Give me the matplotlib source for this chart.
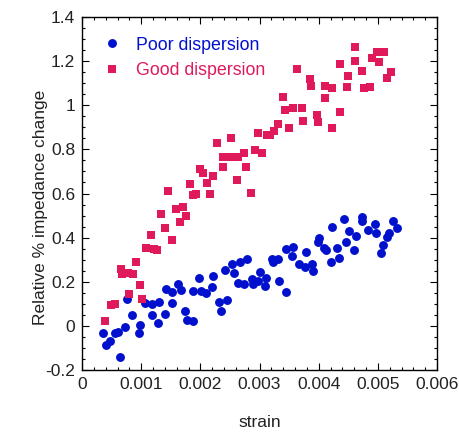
import numpy as np
import matplotlib
matplotlib.use("Agg")
import matplotlib.pyplot as plt
from matplotlib.ticker import MultipleLocator, FormatStrFormatter

plt.rcParams['font.family'] = ['Liberation Sans', 'DejaVu Sans']

# strain in units of 1e-3
poor_x = [0.363, 0.414, 0.478, 0.553, 0.608, 0.642, 0.727, 0.755, 0.845, 0.955,
          0.980, 1.073, 1.178, 1.306, 1.191, 1.289, 1.403, 1.420, 1.516, 1.628,
          1.673, 1.516, 1.741, 1.769, 1.881, 1.871, 1.982, 2.003, 2.104, 2.202,
          2.222, 2.315, 2.344, 2.456, 2.417, 2.530, 2.569, 2.670, 2.789, 2.636,
          2.743, 2.865, 2.895, 3.003, 2.980, 3.118, 3.093, 3.206, 3.223, 3.318,
          3.333, 3.448, 3.448, 3.558, 3.554, 3.662, 3.769, 3.882, 3.899, 3.786,
          3.997, 4.014, 4.090, 4.132, 4.310, 4.343, 4.203, 4.230, 4.428, 4.521,
          4.631, 4.462, 4.600, 4.727, 4.732, 4.839, 4.952, 4.969, 5.261, 5.324,
          5.194, 5.155, 5.084, 5.048]
poor_y = [-0.034, -0.088, -0.067, -0.031, -0.029, -0.141, -0.005, 0.124, 0.050, -0.031,
          0.003, 0.102, 0.097, 0.109, 0.050, 0.015, 0.053, 0.166, 0.154, 0.188,
          0.163, 0.102, 0.067, 0.026, 0.023, 0.157, 0.219, 0.157, 0.149, 0.177,
          0.224, 0.107, 0.067, 0.118, 0.253, 0.280, 0.238, 0.291, 0.302, 0.194,
          0.192, 0.211, 0.188, 0.245, 0.205, 0.215, 0.180, 0.305, 0.290, 0.305,
          0.204, 0.153, 0.347, 0.357, 0.316, 0.280, 0.269, 0.279, 0.249, 0.337,
          0.381, 0.398, 0.351, 0.346, 0.351, 0.307, 0.290, 0.448, 0.484, 0.432,
          0.408, 0.381, 0.342, 0.493, 0.477, 0.436, 0.460, 0.422, 0.476, 0.444,
          0.423, 0.404, 0.365, 0.331]

good_x = [0.389, 0.482, 0.566, 0.659, 0.668, 0.782, 0.870, 0.799, 0.913, 0.980,
          1.022, 1.077, 1.225, 1.276, 1.158, 1.327, 1.411, 1.516, 1.459, 1.589,
          1.699, 1.656, 1.766, 1.817, 1.881, 1.935, 1.994, 2.050, 2.107, 2.163,
          2.222, 2.276, 2.388, 2.501, 2.631, 2.388, 2.518, 2.620, 2.738, 2.780,
          2.856, 2.924, 3.042, 2.969, 3.122, 3.177, 3.240, 3.307, 3.389, 3.431,
          3.503, 3.574, 3.723, 3.628, 3.743, 3.853, 3.870, 3.972, 3.988, 4.107,
          4.225, 4.107, 4.222, 4.365, 4.355, 4.501, 4.487, 4.622, 4.614, 4.737,
          4.761, 4.867, 4.896, 4.986, 5.107, 5.025, 5.222, 5.155]
good_y = [0.021, 0.096, 0.101, 0.259, 0.234, 0.241, 0.237, 0.146, 0.291, 0.187,
          0.123, 0.352, 0.348, 0.346, 0.414, 0.507, 0.445, 0.391, 0.612, 0.529,
          0.541, 0.469, 0.497, 0.644, 0.593, 0.600, 0.711, 0.691, 0.646, 0.596,
          0.680, 0.829, 0.766, 0.766, 0.766, 0.720, 0.853, 0.663, 0.783, 0.718,
          0.604, 0.798, 0.785, 0.874, 0.865, 0.865, 0.884, 0.914, 1.039, 0.978,
          0.898, 0.989, 0.989, 1.166, 0.930, 1.117, 1.087, 0.954, 0.922, 1.089,
          1.080, 1.031, 0.898, 0.971, 1.185, 1.134, 1.081, 1.262, 1.199, 1.156,
          1.080, 1.084, 1.212, 1.243, 1.240, 1.195, 1.151, 1.125]

blue = "#0010cc"
red = "#e01a5a"

fig = plt.figure(figsize=(4.59, 4.32), dpi=100)
ax = fig.add_axes([82 / 459, 1 - 370 / 432, 355 / 459, 353 / 432])

ax.plot(np.array(poor_x) * 1e-3, poor_y, 'o', color=blue, ms=6.4, mew=0,
        label="Poor dispersion")
ax.plot(np.array(good_x) * 1e-3, good_y, 's', color=red, ms=6.0, mew=0,
        label="Good dispersion")

ax.set_xlim(0, 0.006)
ax.set_ylim(-0.2, 1.4)
ax.xaxis.set_major_locator(MultipleLocator(0.001))
ax.xaxis.set_minor_locator(MultipleLocator(0.0002))
ax.yaxis.set_major_locator(MultipleLocator(0.2))
ax.yaxis.set_minor_locator(MultipleLocator(0.05))
ax.xaxis.set_major_formatter(FormatStrFormatter('%g'))
ax.yaxis.set_major_formatter(FormatStrFormatter('%g'))
ax.tick_params(which='both', direction='in', top=True, right=True,
               labelsize=12.5, labelcolor='#222222', width=0.8)
ax.tick_params(which='major', length=5, pad=5)
ax.tick_params(which='minor', length=2.5)
for s in ax.spines.values():
    s.set_linewidth(1.0)

ax.set_xlabel("strain", fontsize=12.5, color='#222222')
ax.set_ylabel("Relative % impedance change", fontsize=12.5, color='#222222')
ax.xaxis.set_label_coords(0.5, -0.128)
ax.yaxis.set_label_coords(-0.096, 0.46)

leg = ax.legend(loc='upper left', bbox_to_anchor=(0.025, 0.98), frameon=False,
                fontsize=12.8, handlelength=1.0, handletextpad=0.85,
                labelspacing=0.5, borderaxespad=0.3,
                labelcolor='markerfacecolor')

fig.savefig("out.png", dpi=100)
